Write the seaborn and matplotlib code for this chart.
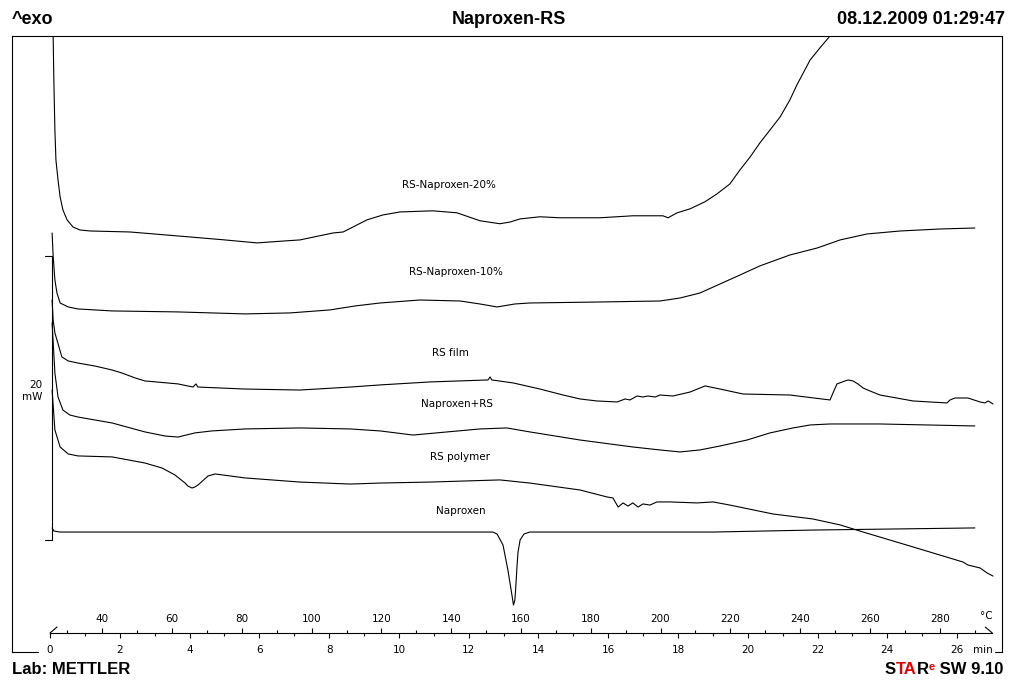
import numpy as np
import pandas as pd
import matplotlib
matplotlib.use('Agg')
import matplotlib.pyplot as plt
import seaborn as sns

# time (min) and heat flow (mW, curves stacked with offsets)
t_20 = [0.06, 0.09, 0.11, 0.14, 0.17, 0.23, 0.29, 0.37, 0.49, 0.66, 0.86, 1.15, 2.29, 4.01, 5.01,
        5.93, 6.73, 7.16, 8.11, 8.40, 9.08, 9.54, 10.03, 10.97, 11.66, 12.32, 12.89, 13.18, 13.47,
        14.04, 14.61, 15.76, 16.70, 17.56, 17.71, 17.97, 18.34, 18.77, 19.11, 19.48, 19.77, 20.06,
        20.34, 20.63, 20.92, 21.20, 21.40, 21.78, 22.06, 22.35, 22.78]
hf_20 = [36.6, 35.49, 32.39, 28.87, 26.76, 25.35, 24.15, 23.24, 22.54, 22.04, 21.83, 21.76, 21.69, 21.34, 21.13,
         20.92, 21.06, 21.13, 21.62, 21.69, 22.54, 22.89, 23.10, 23.18, 23.04, 22.48, 22.27, 22.39, 22.61,
         22.76, 22.69, 22.69, 22.83, 22.83, 22.69, 23.04, 23.32, 23.82, 24.37, 25.07, 26.06, 26.97,
         27.96, 28.87, 29.79, 30.99, 32.04, 33.80, 34.65, 35.49, 36.97]

t_10 = [0.06, 0.09, 0.14, 0.20, 0.29, 0.52, 0.80, 1.78, 3.67, 5.59, 6.88, 8.02, 8.74, 9.46, 10.60,
        11.75, 12.32, 12.81, 13.32, 13.75, 15.76, 17.48, 18.05, 18.62, 19.20, 19.77, 20.34, 21.20,
        21.98, 22.64, 23.41, 24.36, 25.50, 26.50]
hf_10 = [21.62, 20.00, 18.31, 17.39, 16.69, 16.41, 16.27, 16.13, 16.06, 15.92, 15.99, 16.20, 16.48, 16.69, 16.90,
         16.83, 16.62, 16.41, 16.62, 16.69, 16.76, 16.83, 17.04, 17.39, 18.03, 18.66, 19.30, 20.07,
         20.56, 21.13, 21.55, 21.76, 21.90, 21.97]

t_film = [0.06, 0.09, 0.14, 0.20, 0.34, 0.52, 0.80, 1.29, 1.78, 2.06, 2.44, 2.72, 3.67, 4.10, 4.18,
          4.24, 5.59, 7.16, 8.60, 9.46, 10.89, 12.55, 12.61, 12.66, 13.27, 14.04, 14.70, 15.19,
          15.67, 16.25, 16.48, 16.62, 16.82, 16.99, 17.13, 17.34, 17.48, 17.85, 18.34, 18.77, 19.20,
          19.86, 21.20, 22.35, 22.41, 22.55, 22.78, 22.87, 23.01, 23.15, 23.30, 23.50, 23.78, 24.73,
          25.21, 25.70, 25.79, 25.93, 26.30, 26.65, 26.79, 26.88, 27.02]
hf_film = [16.90, 15.49, 14.58, 14.08, 12.89, 12.61, 12.46, 12.25, 11.97, 11.76, 11.41, 11.20, 10.99, 10.77, 10.99,
           10.77, 10.63, 10.56, 10.77, 10.92, 11.13, 11.27, 11.48, 11.27, 11.06, 10.63, 10.21, 9.93,
           9.79, 9.72, 9.93, 9.86, 10.14, 10.07, 10.14, 10.07, 10.21, 10.14, 10.42, 10.85, 10.63,
           10.28, 10.21, 9.86, 10.21, 10.99, 11.20, 11.27, 11.20, 10.99, 10.70, 10.49, 10.21, 9.79,
           9.72, 9.65, 9.86, 10.00, 10.00, 9.72, 9.65, 9.79, 9.58]

t_mix = [0.06, 0.14, 0.23, 0.37, 0.57, 0.80, 1.78, 2.72, 3.30, 3.67, 4.15, 4.64, 5.59, 7.16, 8.60,
         9.46, 10.40, 11.38, 12.32, 13.09, 13.75, 15.19, 16.70, 17.48, 18.05, 18.62, 19.20, 19.97,
         20.63, 21.29, 21.78, 22.35, 23.78, 26.50]
hf_mix = [15.28, 11.76, 10.07, 9.15, 8.80, 8.66, 8.24, 7.61, 7.32, 7.25, 7.54, 7.68, 7.82, 7.89, 7.82,
          7.68, 7.39, 7.61, 7.82, 7.89, 7.61, 7.04, 6.55, 6.34, 6.20, 6.34, 6.62, 7.04,
          7.54, 7.89, 8.10, 8.17, 8.17, 8.03]

t_poly = [0.06, 0.14, 0.29, 0.52, 0.80, 1.78, 2.72, 3.21, 3.58, 3.87, 3.95, 4.07, 4.15, 4.24, 4.53,
          4.73, 5.59, 7.16, 8.60, 9.46, 10.89, 12.89, 13.75, 15.19, 15.96, 16.13, 16.28, 16.42,
          16.56, 16.70, 16.85, 16.99, 17.19, 17.39, 17.77, 18.54, 19.00, 19.48, 20.72, 21.86, 22.64,
          23.30, 24.73, 26.16, 26.30, 26.65, 26.85, 27.02]
hf_poly = [10.56, 7.75, 6.55, 6.06, 5.92, 5.85, 5.42, 5.07, 4.58, 4.01, 3.80, 3.66, 3.73, 3.87, 4.51,
           4.65, 4.37, 4.08, 3.94, 4.01, 4.08, 4.23, 4.01, 3.52, 3.03, 2.96, 2.32, 2.61,
           2.39, 2.61, 2.32, 2.54, 2.46, 2.68, 2.68, 2.61, 2.68, 2.46, 1.83, 1.48, 1.06,
           0.56, -0.49, -1.55, -1.76, -1.97, -2.32, -2.54]

t_nap = [0.06, 0.11, 0.29, 7.16, 12.69, 12.81, 12.98, 13.12, 13.24, 13.28, 13.32, 13.35, 13.38, 13.41,
         13.47, 13.58, 13.75, 19.00, 21.86, 26.50]
hf_nap = [0.85, 0.63, 0.56, 0.56, 0.56, 0.42, -0.35, -2.11, -3.94, -4.58, -4.23, -3.17, -1.90, -0.85,
          0.00, 0.42, 0.56, 0.56, 0.70, 0.85]

names = ['RS-Naproxen-20%', 'RS-Naproxen-10%', 'RS film', 'Naproxen+RS', 'RS polymer', 'Naproxen']
label_t = [11.43, 11.63, 11.46, 11.66, 11.75, 11.78]
label_hf = [25.0, 18.87, 13.17, 9.58, 5.85, 2.04]

min_ticks = list(range(0, 27, 2))
temp_ticks = list(range(40, 281, 20))

curves = [(t_20, hf_20), (t_10, hf_10), (t_film, hf_film), (t_mix, hf_mix), (t_poly, hf_poly), (t_nap, hf_nap)]

sns.set_style('white')
plt.rcParams['font.family'] = ['DejaVu Sans']
plt.rcParams['text.color'] = 'black'
plt.rcParams['xtick.color'] = 'black'
plt.rcParams['xtick.labelcolor'] = 'black'

W, H = 1009, 680
fig = plt.figure(figsize=(W / 100, H / 100), dpi=100)
ax = fig.add_axes([12 / W, 28 / H, 990 / W, 616 / H])

for (t, hf), name in zip(curves, names):
    df = pd.DataFrame({'time': t, 'heatflow': hf})
    sns.lineplot(data=df, x='time', y='heatflow', ax=ax, color='black', linewidth=0.8,
                 estimator=None, sort=False)

for name, x, y in zip(names, label_t, label_hf):
    ax.text(x, y, name, ha='center', va='center', fontsize=7.5)

ax.set_xlim(-1.089, 27.278)
ax.set_ylim(-7.887, 35.49)
ax.set_xlabel('')
ax.set_ylabel('')
ax.set_xticks([])
ax.set_yticks([])
for s in ['top', 'left', 'right']:
    ax.spines[s].set_color('black')
    ax.spines[s].set_linewidth(0.8)
ax.spines['bottom'].set_visible(False)
# short bottom frame pieces at the corners
ax.plot([0, 26 / 990], [0, 0], transform=ax.transAxes, color='black', lw=0.8, clip_on=False)
ax.plot([983 / 990, 1], [0, 0], transform=ax.transAxes, color='black', lw=0.8, clip_on=False)

# 20 mW scale bar
ax.plot([0.057, 0.057], [0, 20], color='black', lw=0.8)
ax.plot([-0.14, 0.057], [0, 0], color='black', lw=0.8)
ax.plot([-0.14, 0.057], [20, 20], color='black', lw=0.8)
ax.text(-0.23, 10.49, '20\nmW', ha='right', va='center', fontsize=7.5, multialignment='right',
        linespacing=1.3)

# slanted end marks of the time axis
ax.plot([0, 0.2], [-6.55, -6.13], color='black', lw=0.8)
ax.plot([27.0, 26.8], [-6.55, -6.13], color='black', lw=0.8)

# time / temperature axis
ax2 = fig.add_axes([50 / W, 47 / H, 942 / W, 0.0001])
ax2.set_facecolor('none')
ax2.set_xlim(0, 27)
ax2.set_yticks([])
for s in ['top', 'left', 'right']:
    ax2.spines[s].set_visible(False)
ax2.spines['bottom'].set_color('black')
ax2.spines['bottom'].set_linewidth(0.8)
ax2.set_xticks(min_ticks)
ax2.set_xticklabels([str(v) for v in min_ticks])
ax2.set_xticks(list(range(1, 26, 2)), minor=True)
ax2.tick_params(axis='x', which='major', direction='out', length=3.6, width=0.8, pad=5,
                labelsize=7.5, bottom=True)
ax2.tick_params(axis='x', which='minor', direction='out', length=2.2, width=0.8, bottom=True)

sec = ax2.secondary_xaxis('top', functions=(lambda m: 25 + 10 * m, lambda c: (c - 25) / 10))
sec.set_xticks(temp_ticks)
sec.set_xticklabels([str(v) for v in temp_ticks])
sec.set_xticks([v for v in range(30, 291, 20)], minor=True)
sec.tick_params(axis='x', which='major', direction='out', length=3.6, width=0.8, pad=3, labelsize=7.5)
sec.tick_params(axis='x', which='minor', direction='out', length=2.2, width=0.8)
sec.spines['top'].set_visible(False)

fig.text(993 / W, 1 - 650 / H, 'min', ha='right', va='center', fontsize=7.5)
fig.text(993 / W, 1 - 616 / H, '°C', ha='right', va='center', fontsize=7.5)

# header
hdr = dict(fontsize=13, fontweight='bold', family='Liberation Sans', va='center')
fig.text(12 / W, 1 - 20 / H, '^exo', ha='left', **hdr)
fig.text(509 / W, 1 - 20 / H, 'Naproxen-RS', ha='center', **hdr)
fig.text(1005 / W, 1 - 20 / H, '08.12.2009 01:29:47', ha='right', **hdr)

# footer
ftr = dict(fontsize=12, fontweight='bold', family='Liberation Sans')
fig.text(12 / W, 1 - 669 / H, 'Lab: METTLER', ha='left', va='center', **ftr)
sw = fig.text(1003 / W, 1 - 669 / H, ' SW 9.10', ha='right', va='center', color='black', **ftr)
sup = ax.annotate('e', xy=(0, 1), xycoords=sw, ha='right', va='top', color='#e00000',
                  fontsize=8, fontweight='bold', family='Liberation Sans')
r = ax.annotate('R', xy=(0, 0), xycoords=(sup, sw), ha='right', va='bottom', color='black', **ftr)
ta = ax.annotate('TA', xy=(0, 0), xycoords=r, ha='right', va='bottom', color='#e00000', **ftr)
ax.annotate('S', xy=(0, 0), xycoords=ta, ha='right', va='bottom', color='black', **ftr)

fig.savefig('out.png', dpi=100)
